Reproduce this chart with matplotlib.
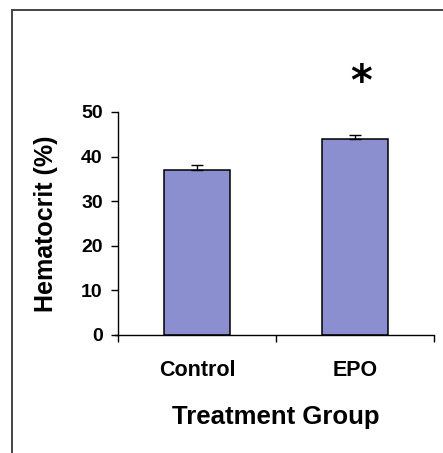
import matplotlib
matplotlib.use("Agg")
import matplotlib.pyplot as plt
from matplotlib.lines import Line2D

plt.rcParams['font.family'] = ['Liberation Sans', 'DejaVu Sans']

groups = ['Control', 'EPO']
hematocrit = [37.0, 43.9]
sem = [1.1, 0.9]
significant = [False, True]

fig = plt.figure(figsize=(4.43, 4.53), dpi=100)
ax = fig.add_axes([0.2664, 0.2605, 0.7133, 0.4923])

x = list(range(len(groups)))
ax.bar(x, hematocrit, width=0.42, color='#8B8FCF', edgecolor='black', linewidth=1.1, zorder=2)
ax.errorbar(x, hematocrit, yerr=[[0] * len(sem), sem], fmt='none', ecolor='black',
            elinewidth=1.0, capsize=4.3, capthick=1.0, zorder=3)

# significance marker above the bar
for xi, h, e, sig in zip(x, hematocrit, sem, significant):
    if sig:
        ax.text(xi + 0.04, 56.6, '*', ha='center', va='center', fontsize=30,
                family='DejaVu Sans', fontweight='bold', clip_on=False)

ax.set_xlim(-0.5, 1.5)
ax.set_ylim(0, 50)
ax.set_yticks([0, 10, 20, 30, 40, 50])
ax.set_xticks(x)
ax.set_xticklabels(groups, fontsize=15.5, fontweight='bold')
ax.set_xticks([-0.5, 0.5, 1.5], minor=True)
ax.tick_params(axis='x', which='major', length=0, pad=18)
ax.tick_params(axis='x', which='minor', length=5, direction='out', width=1)
ax.tick_params(axis='y', length=5, direction='out', width=1, labelsize=14, pad=6)
for lbl in ax.get_yticklabels():
    lbl.set_fontweight('bold')

ax.spines['top'].set_visible(False)
ax.spines['right'].set_visible(False)
for s in ('left', 'bottom'):
    ax.spines[s].set_linewidth(1.0)
ax.spines['bottom'].set_bounds(-0.52, 1.5)

ax.set_ylabel('Hematocrit (%)', fontsize=18, fontweight='bold', labelpad=17)
ax.set_xlabel('Treatment Group', fontsize=18.5, fontweight='bold', labelpad=17)

# outer frame (top and left edges only)
fig.add_artist(Line2D([12 / 443, 1.0], [1 - 10 / 453, 1 - 10 / 453],
                      transform=fig.transFigure, color='#444444', linewidth=1.4))
fig.add_artist(Line2D([12 / 443, 12 / 443], [0.0, 1 - 10 / 453],
                      transform=fig.transFigure, color='#444444', linewidth=1.4))

fig.savefig('out.png', dpi=100)
